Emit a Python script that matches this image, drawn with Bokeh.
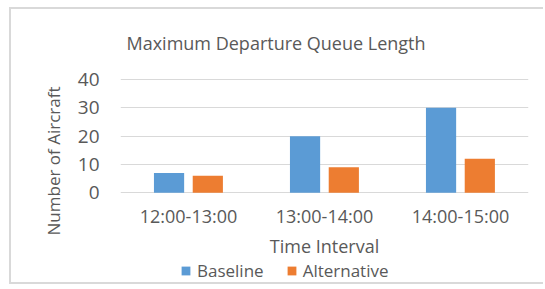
from bokeh.plotting import figure
from bokeh.models import (ColumnDataSource, FactorRange, Range1d, FixedTicker, Title,
                          Legend, LegendItem)
from bokeh.transform import dodge
from bokeh.embed import file_html
from bokeh.resources import INLINE

categories = ["12:00-13:00", "13:00-14:00", "14:00-15:00"]
baseline = [7, 20, 30]
alternative = [6, 9, 12]
y_ticks = [0, 10, 20, 30, 40]

title_text = "Maximum Departure Queue Length"
x_label = "Time Interval"
y_label = "Number of Aircraft"

BLUE = "#5B9BD5"
ORANGE = "#ED7D31"
TEXT = "#595959"
GRID = "#D9D9D9"
FONT = "Open Sans"

source = ColumnDataSource(data=dict(cat=categories, baseline=baseline, alternative=alternative))

# the frame reaches down to the bottom so that the category labels, the axis title and
# the legend (all below the zero line) are drawn inside it
p = figure(
    width=534, height=277,
    x_range=FactorRange(factors=categories, range_padding=0),
    y_range=Range1d(-33.04, 40.35),
    output_backend="svg", toolbar_location=None,
    min_border_left=109, min_border_right=17,
    min_border_top=66, min_border_bottom=0,
    styles={"margin-left": "9px", "margin-top": "7px",
            "border-left": "2px solid #D9D9D9", "border-top": "2px solid #D9D9D9",
            "border-bottom": "2px solid #D9D9D9", "border-right": "0px none"},
)

xa = p.below[0]
ya = p.left[0]

r1 = p.vbar(x=dodge("cat", -0.143, range=p.x_range), top="baseline", width=0.222,
            source=source, color=BLUE, line_color=None)
r2 = p.vbar(x=dodge("cat", 0.142, range=p.x_range), top="alternative", width=0.222,
            source=source, color=ORANGE, line_color=None)

p.outline_line_color = None
p.xgrid.grid_line_color = None
p.ygrid.grid_line_color = GRID
p.ygrid.grid_line_width = 1

ya.ticker = FixedTicker(ticks=y_ticks)
for ax in (xa, ya):
    ax.axis_line_color = None
    ax.major_tick_line_color = None
    ax.minor_tick_line_color = None
    ax.major_label_text_font = FONT
    ax.major_label_text_font_size = "18px"
    ax.major_label_text_color = TEXT
    ax.axis_label_text_font = FONT
    ax.axis_label_text_font_style = "normal"
    ax.axis_label_text_color = TEXT

xa.fixed_location = 0
xa.axis_label = x_label
xa.axis_label_text_font_size = "18px"
xa.major_label_standoff = 5
xa.axis_label_standoff = 3

ya.major_label_text_font_size = "19px"
ya.major_label_standoff = 15

p.title.text = title_text
p.title.text_font = FONT
p.title.text_font_size = "18px"
p.title.text_font_style = "normal"
p.title.text_color = TEXT
p.title.align = "left"
p.title.vertical_align = "top"
p.title.offset = 6
p.title.standoff = 43

# y axis title as a side title so it can sit below the frame centre as in the reference
p.add_layout(Title(text=y_label, align="right", offset=8, vertical_align="bottom", standoff=19,
                   text_font=FONT, text_font_size="17px", text_font_style="normal",
                   text_color=TEXT), "left")

lg = Legend(items=[LegendItem(label="Baseline", renderers=[r1]),
                   LegendItem(label="Alternative", renderers=[r2])],
            orientation="horizontal", location=(60, 4),
            padding=0, margin=0, spacing=22,
            border_line_color=None, background_fill_alpha=0,
            glyph_width=11, glyph_height=11, label_standoff=6,
            label_text_font=FONT, label_text_font_size="17px", label_text_color=TEXT)
p.add_layout(lg, "center")

open("out.html", "w").write(file_html(p, INLINE))
